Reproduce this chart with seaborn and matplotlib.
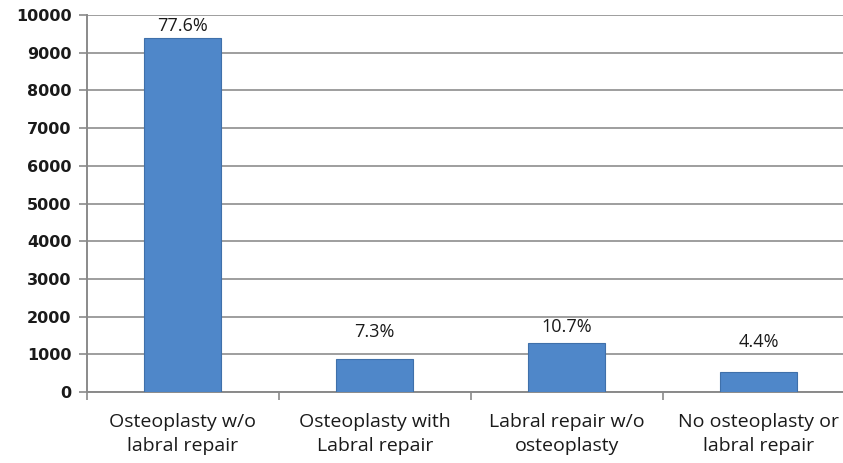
import matplotlib
matplotlib.use("Agg")
import matplotlib.pyplot as plt
import seaborn as sns
import pandas as pd
from matplotlib.ticker import FixedLocator

# Procedure groups and case counts
categories = [
    "Osteoplasty w/o\nlabral repair",
    "Osteoplasty with\nLabral repair",
    "Labral repair w/o\nosteoplasty",
    "No osteoplasty or\nlabral repair",
]
counts = [9390, 883, 1295, 532]
percent_labels = ["77.6%", "7.3%", "10.7%", "4.4%"]
y_ticks = [0, 1000, 2000, 3000, 4000, 5000, 6000, 7000, 8000, 9000, 10000]

# vertical gap (points) between each bar top and its percentage label
label_gaps = [2, 13, 5, 15]

sns.set_theme(style="white")
plt.rcParams["font.family"] = ["Open Sans", "DejaVu Sans"]

df = pd.DataFrame({"group": categories, "count": counts})

fig = plt.figure(figsize=(8.43, 4.63), dpi=100)
ax = fig.add_axes([0.103, 0.1533, 0.897, 0.8143])

sns.barplot(data=df, x="group", y="count", ax=ax, color="#4F87C9",
            width=0.4, edgecolor="#3F70AA", linewidth=0.8, saturation=1,
            zorder=3)

ax.set_ylim(0, 10000)
ax.set_xlim(-0.5, 3.44)
ax.set_yticks(y_ticks)
ax.set_yticklabels([str(v) for v in y_ticks], fontsize=11.5, fontweight="bold",
                   family="DejaVu Sans", color="#1a1a1a")
ax.grid(axis="y", color="#9e9e9e", linewidth=1.4, zorder=0)
ax.set_axisbelow(True)

ax.set_xlabel("")
ax.set_ylabel("")
ax.set_xticks(range(len(categories)))
ax.set_xticklabels(categories, fontsize=14, color="#1a1a1a", linespacing=1.45)
ax.tick_params(axis="x", length=0, pad=15)
ax.tick_params(axis="y", left=True, length=6, width=1.2, color="#8a8a8a", pad=5)

# tick marks at category boundaries
ax.xaxis.set_minor_locator(FixedLocator([-0.5, 0.5, 1.5, 2.5, 3.5]))
ax.tick_params(axis="x", which="minor", bottom=True, length=6, width=1.2,
               color="#8a8a8a")

for side in ("top", "right"):
    ax.spines[side].set_visible(False)
for side in ("left", "bottom"):
    ax.spines[side].set_color("#8a8a8a")
    ax.spines[side].set_linewidth(1.4)

for i, (bar, txt) in enumerate(zip(ax.patches, percent_labels)):
    ax.annotate(txt, (bar.get_x() + bar.get_width() / 2, bar.get_height()),
                xytext=(0, label_gaps[i]), textcoords="offset points",
                ha="center", va="bottom", fontsize=13, color="#1a1a1a")

fig.savefig("out.png", dpi=100)
